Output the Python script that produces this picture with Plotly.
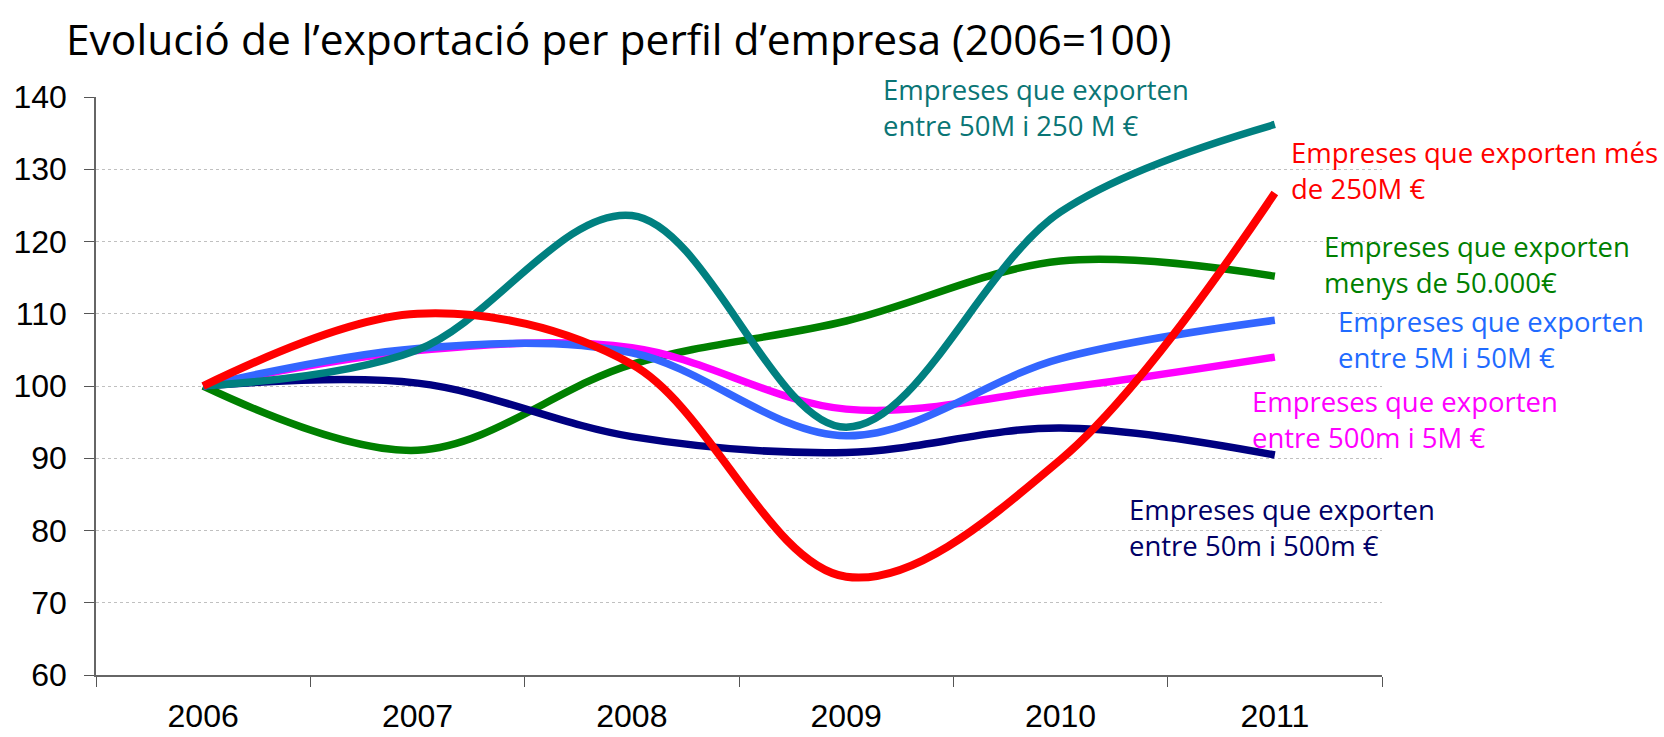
import plotly.graph_objects as go

# ---- data ----
years = ["2006", "2007", "2008", "2009", "2010", "2011"]
teal_50M_250M = [100, 105.0, 123.6, 94.3, 124.1, 136.2]
red_mes_250M = [100, 110.0, 103.0, 73.6, 89.8, 126.7]
green_menys_50k = [100, 91.1, 103.0, 109.0, 117.3, 115.2]
blue_5M_50M = [100, 105.2, 104.6, 93.1, 103.8, 109.1]
magenta_500m_5M = [100, 104.9, 105.3, 96.8, 99.7, 104.0]
navy_50m_500m = [100, 100.4, 93.0, 90.8, 94.2, 90.45]

y_ticks = [60, 70, 80, 90, 100, 110, 120, 130, 140]

title_text = "Evolució de l’exportació per perfil d’empresa (2006=100)"

# series drawn bottom -> top
series = [
    ("Empreses que exporten<br>menys de 50.000€", green_menys_50k, "#008000"),
    ("Empreses que exporten<br>entre 50m i 500m €", navy_50m_500m, "#000080"),
    ("Empreses que exporten<br>entre 500m i 5M €", magenta_500m_5M, "#FF00FF"),
    ("Empreses que exporten<br>entre 5M i 50M €", blue_5M_50M, "#3366FF"),
    ("Empreses que exporten<br>entre 50M i 250 M €", teal_50M_250M, "#008080"),
    ("Empreses que exporten més<br>de 250M €", red_mes_250M, "#FF0000"),
]

# label placement (pixel positions in the 1664x737 frame)
label_pos = {
    "#008080": (881, 107, "#0a7575"),
    "#FF0000": (1289, 171, "#FF0000"),
    "#008000": (1322, 264, "#008000"),
    "#3366FF": (1336, 339, "#1f6bff"),
    "#FF00FF": (1250, 419, "#FF00FF"),
    "#000080": (1127, 527, "#000066"),
}

W, H = 1664, 737
L, R, T, B = 96, 1382, 97, 675

fig = go.Figure()
for name, vals, col in series:
    fig.add_trace(go.Scatter(
        x=years, y=vals, mode="lines", name=name.replace("<br>", " "),
        line=dict(color=col, width=8 if col == "#FF0000" else 7.5,
                  shape="spline", smoothing=1.0),
        hoverinfo="skip", showlegend=False,
    ))

annotations = []
for name, vals, col in series:
    px, py, tcol = label_pos[col]
    annotations.append(dict(
        text=name, xref="paper", yref="paper",
        x=(px - L) / (R - L), y=(B - py) / (B - T),
        xanchor="left", yanchor="middle", align="left", showarrow=False,
        font=dict(family="Open Sans, Liberation Sans, sans-serif", size=27.5, color=tcol),
    ))

fig.update_layout(
    width=W, height=H,
    margin=dict(l=L, r=W - R, t=T, b=H - B, autoexpand=False),
    paper_bgcolor="white", plot_bgcolor="white",
    title=dict(
        text=title_text, xref="container", yref="container",
        x=66 / W, xanchor="left", y=1 - 40 / H, yanchor="middle",
        font=dict(family="Open Sans, Liberation Sans, sans-serif", size=42.5, color="black"),
    ),
    annotations=annotations,
    xaxis=dict(
        type="category", range=[-0.5, 5.5], tickson="boundaries",
        ticks="outside", ticklen=10, tickwidth=1.2, tickcolor="#555555",
        showline=True, linecolor="#666666", linewidth=1.5,
        showgrid=False, zeroline=False,
        tickfont=dict(family="Liberation Sans, Arial, sans-serif", size=32, color="black"),
        ticklabelstandoff=12, automargin=False,
    ),
    yaxis=dict(
        range=[60, 140], tickvals=y_ticks, ticktext=[str(v) for v in y_ticks],
        ticks="outside", ticklen=10, tickwidth=1.2, tickcolor="#555555",
        showline=True, linecolor="#666666", linewidth=1.5,
        showgrid=True, gridcolor="#c0c0c0", gridwidth=1, griddash="dot",
        zeroline=False,
        tickfont=dict(family="Liberation Sans, Arial, sans-serif", size=32, color="black"),
        ticklabelstandoff=11, automargin=False,
    ),
)

fig.write_html("out.html", config={"displayModeBar": False},
               post_script="document.body.style.margin='0';")
